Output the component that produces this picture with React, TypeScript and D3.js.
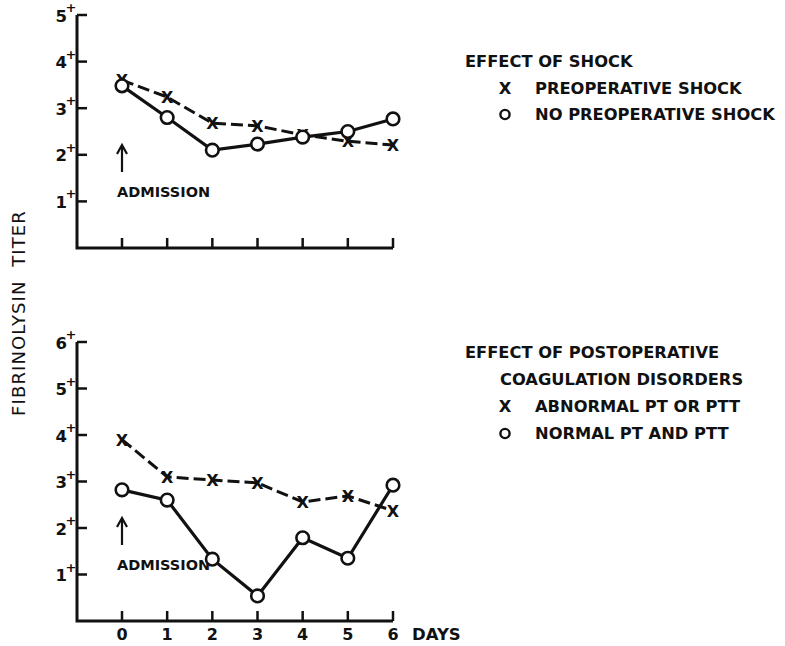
import React from "react";
import * as d3 from "d3";

// Days after admission
const days = [0, 1, 2, 3, 4, 5, 6];

// Upper panel: effect of shock
const preopShock = [3.6, 3.24, 2.68, 2.62, 2.43, 2.29, 2.21];
const noPreopShock = [3.48, 2.8, 2.1, 2.23, 2.38, 2.5, 2.77];

// Lower panel: effect of postoperative coagulation disorders
const abnormalPT = [3.9, 3.1, 3.03, 2.97, 2.56, 2.69, 2.37];
const normalPT = [2.82, 2.6, 1.33, 0.54, 1.79, 1.35, 2.92];

const topTicks = [1, 2, 3, 4, 5];
const bottomTicks = [1, 2, 3, 4, 5, 6];

const W = 785;
const H = 646;
const FONT = "'DejaVu Sans', Verdana, sans-serif";
const INK = "#111";

const xAxisX = 77;
const x = d3.scaleLinear().domain([0, 6]).range([122, 393]);

type PanelProps = {
  yMax: number;
  top: number;
  bottom: number;
  ticks: number[];
  dashed: number[];
  solid: number[];
  showDayLabels: boolean;
};

function Panel({ yMax, top, bottom, ticks, dashed, solid, showDayLabels }: PanelProps) {
  const y = d3.scaleLinear().domain([0, yMax]).range([bottom, top]);
  const line = d3
    .line<number>()
    .x((_, i) => x(days[i]))
    .y((v) => y(v));

  return (
    <g>
      {/* axes */}
      <path
        d={`M${xAxisX},${y(yMax)}V${y(0)}H${x(6)}`}
        fill="none"
        stroke={INK}
        strokeWidth={3}
      />
      {ticks.map((t) => (
        <g key={"y" + t}>
          <line x1={xAxisX} x2={xAxisX + 10} y1={y(t)} y2={y(t)} stroke={INK} strokeWidth={2.5} />
          <text
            x={67}
            y={y(t) + 6.5}
            textAnchor="end"
            fontFamily={FONT}
            fontWeight="bold"
            fontSize={16.5}
            fill={INK}
          >
            {t}
          </text>
          <text
            x={71}
            y={y(t) - 3}
            textAnchor="middle"
            fontFamily={FONT}
            fontWeight="bold"
            fontSize={13}
            fill={INK}
          >
            +
          </text>
        </g>
      ))}
      {days.map((d) => (
        <g key={"x" + d}>
          <line x1={x(d)} x2={x(d)} y1={y(0)} y2={y(0) - 10} stroke={INK} strokeWidth={2.5} />
          {showDayLabels && (
            <text
              x={x(d)}
              y={y(0) + 19}
              textAnchor="middle"
              fontFamily={FONT}
              fontWeight="bold"
              fontSize={16}
              fill={INK}
            >
              {d}
            </text>
          )}
        </g>
      ))}
      {showDayLabels && (
        <text x={412} y={y(0) + 19} fontFamily={FONT} fontWeight="bold" fontSize={16.5} fill={INK}>
          DAYS
        </text>
      )}

      {/* admission marker */}
      <line
        x1={x(0)}
        x2={x(0)}
        y1={y(0) - 76}
        y2={y(0) - 102}
        stroke={INK}
        strokeWidth={2.2}
      />
      <path
        d={`M${x(0) - 5},${y(0) - 94}L${x(0)},${y(0) - 103}L${x(0) + 5},${y(0) - 94}`}
        fill="none"
        stroke={INK}
        strokeWidth={2.2}
      />
      <text x={117} y={y(0) - 51} fontFamily={FONT} fontWeight="bold" fontSize={14.5} fill={INK}>
        ADMISSION
      </text>

      {/* dashed series with X markers */}
      <path
        d={line(dashed) || ""}
        fill="none"
        stroke={INK}
        strokeWidth={3}
        strokeDasharray="12 5"
      />
      {dashed.map((v, i) => (
        <text
          key={"dx" + i}
          x={x(days[i])}
          y={y(v) + 6}
          textAnchor="middle"
          fontFamily={FONT}
          fontWeight="bold"
          fontSize={16}
          fill={INK}
        >
          X
        </text>
      ))}

      {/* solid series with open circles */}
      <path d={line(solid) || ""} fill="none" stroke={INK} strokeWidth={3.2} />
      {solid.map((v, i) => (
        <circle
          key={"sc" + i}
          cx={x(days[i])}
          cy={y(v)}
          r={6.3}
          fill="#fff"
          stroke={INK}
          strokeWidth={2.6}
        />
      ))}
    </g>
  );
}

type LegendRow = { marker: string; label: string };

function Legend({
  y0,
  step,
  title,
  rows,
}: {
  y0: number;
  step: number;
  title: string[];
  rows: LegendRow[];
}) {
  return (
    <g fontFamily={FONT} fontWeight="bold" fontSize={16.3} fill={INK}>
      {title.map((t, i) => (
        <text key={t} x={i === 0 ? 465 : 500} y={y0 + i * step}>
          {t}
        </text>
      ))}
      {rows.map((r, i) => {
        const yy = y0 + (title.length + i) * step;
        return (
          <g key={r.label}>
            {r.marker === "x" ? (
              <text x={505} y={yy} textAnchor="middle">
                X
              </text>
            ) : (
              <circle cx={505} cy={yy - 5.5} r={4.6} fill="none" stroke={INK} strokeWidth={2.4} />
            )}
            <text x={535} y={yy}>
              {r.label}
            </text>
          </g>
        );
      })}
    </g>
  );
}

export default function App() {
  return (
    <svg
      width={W}
      height={H}
      viewBox={`0 0 ${W} ${H}`}
      style={{ position: "absolute", left: 0, top: 0, background: "#fff" }}
    >
      <rect width={W} height={H} fill="#fff" />

      <text
        transform="translate(25,313) rotate(-90)"
        textAnchor="middle"
        fontFamily={FONT}
        fontSize={18}
        letterSpacing={1.1}
        fill={INK}
        style={{ whiteSpace: "pre" }}
      >
        {"FIBRINOLYSIN  TITER"}
      </text>

      <Panel
        yMax={5}
        top={15}
        bottom={248}
        ticks={topTicks}
        dashed={preopShock}
        solid={noPreopShock}
        showDayLabels={false}
      />
      <Panel
        yMax={6}
        top={342}
        bottom={621}
        ticks={bottomTicks}
        dashed={abnormalPT}
        solid={normalPT}
        showDayLabels={true}
      />

      <Legend
        y0={67}
        step={26.5}
        title={["EFFECT OF SHOCK"]}
        rows={[
          { marker: "x", label: "PREOPERATIVE SHOCK" },
          { marker: "o", label: "NO PREOPERATIVE SHOCK" },
        ]}
      />
      <Legend
        y0={358}
        step={27}
        title={["EFFECT OF POSTOPERATIVE", "COAGULATION DISORDERS"]}
        rows={[
          { marker: "x", label: "ABNORMAL PT OR PTT" },
          { marker: "o", label: "NORMAL PT AND PTT" },
        ]}
      />
    </svg>
  );
}
